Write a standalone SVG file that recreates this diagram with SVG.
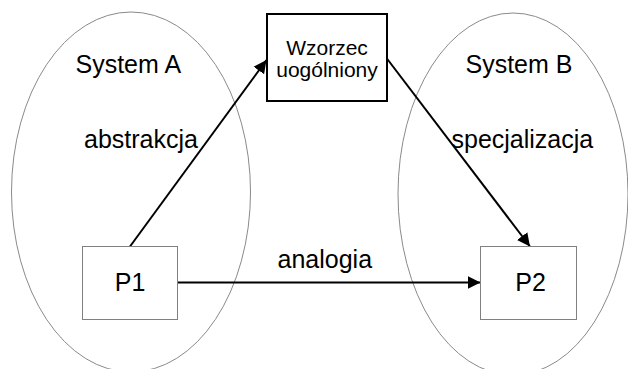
<svg xmlns="http://www.w3.org/2000/svg" width="628" height="369" viewBox="0 0 628 369">
<style>
.sys{fill:none;stroke:#8a8a8a;stroke-width:1}
.box{fill:#fff;stroke:#808080;stroke-width:1}
.main{fill:#fff;stroke:#000;stroke-width:2}
.lbl{font-family:"Liberation Sans",Arial,sans-serif;font-size:25px;fill:#000}
.sm{font-family:"Liberation Sans",Arial,sans-serif;font-size:21px;fill:#000}
.con{fill:none;stroke:#000;stroke-width:2}
</style>
<defs>
<marker id="ah" markerUnits="userSpaceOnUse" markerWidth="14" markerHeight="14" viewBox="0 0 14 14" refX="13" refY="7" orient="auto">
<path d="M0,0.5 L13,7 L0,13.5 Z" fill="#000"/>
</marker>
</defs>
<rect width="628" height="369" fill="#fff"/>
<g id="systemA">
<ellipse class="sys" cx="131" cy="192" rx="119.5" ry="180"/>
<text class="lbl" x="75.5" y="73.3">System A</text>
</g>
<g id="systemB">
<ellipse class="sys" cx="513" cy="194" rx="115" ry="181"/>
<text class="lbl" x="465.5" y="73.3">System B</text>
</g>
<g id="connectors">
<line class="con" x1="130" y1="246.5" x2="266.5" y2="60" marker-end="url(#ah)"/>
<line class="con" x1="386.5" y1="58" x2="530" y2="246.5" marker-end="url(#ah)"/>
<line class="con" x1="177.5" y1="282.5" x2="480.5" y2="282.5" marker-end="url(#ah)"/>
<text class="lbl" x="84" y="147.7">abstrakcja</text>
<text class="lbl" x="451.5" y="147.7">specjalizacja</text>
<text class="lbl" x="277.5" y="267.7">analogia</text>
</g>
<g id="wzorzec">
<rect class="main" x="267" y="14" width="120" height="87"/>
<text class="sm" x="327" y="55" text-anchor="middle">Wzorzec</text>
<text class="sm" x="327" y="77" text-anchor="middle">uogólniony</text>
</g>
<g id="p1">
<rect class="box" x="82.5" y="246.5" width="95" height="73"/>
<text class="lbl" x="130" y="291" text-anchor="middle">P1</text>
</g>
<g id="p2">
<rect class="box" x="480.5" y="246.5" width="96" height="73"/>
<text class="lbl" x="530.5" y="290.5" text-anchor="middle">P2</text>
</g>
</svg>
